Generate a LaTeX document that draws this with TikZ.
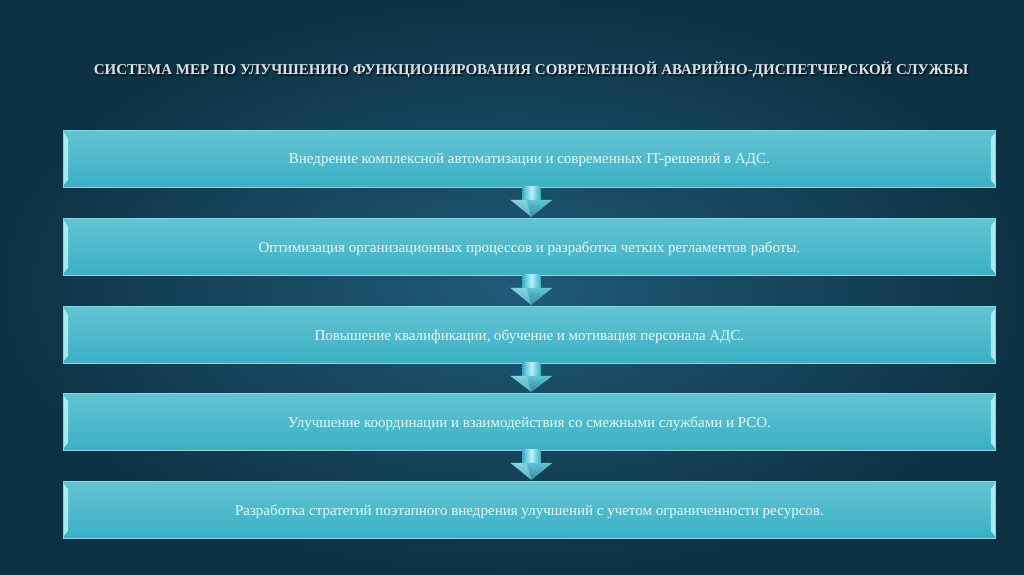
\documentclass[tikz,border=0pt]{standalone}
\usepackage{fontspec}
\setmainfont{Liberation Serif}
\definecolor{bgin}{HTML}{1F5C77}
\definecolor{bgout}{HTML}{0E3245}
\definecolor{boxtop}{HTML}{62C4D3}
\definecolor{boxbot}{HTML}{3BB0C4}
\definecolor{boxedge}{HTML}{8ED4DD}
\definecolor{bevel}{HTML}{B8F4FA}
\definecolor{txt}{HTML}{EAF7F9}
\definecolor{ttl}{HTML}{DCE2E6}
\tikzset{
  x=1pt, y=-1pt,
  stepbox/.style={draw=boxedge, line width=0.8pt, top color=boxtop, bottom color=boxbot,
    minimum width=932pt, minimum height=57pt, inner sep=0pt, anchor=north west},
  boxtext/.style={text=txt, font=\fontsize{15}{18}\selectfont},
  titletext/.style={font=\bfseries\fontsize{15}{18}\selectfont},
  bevelstrip/.style={fill=bevel, draw=none, opacity=0.85},
  arrowshaft/.style={left color=boxbot, right color=boxbot, middle color=bevel, draw=none},
  arrowhead/.style={top color=boxtop, bottom color=boxbot!80!black, draw=none},
}
\begin{document}
\begin{tikzpicture}
\shade[inner color=bgin, outer color=bgout] (0,0) rectangle (1024,574);
\useasboundingbox (0,0) rectangle (1024,574);

\node[text=black, opacity=0.6, titletext] at (532.5,71.5) {СИСТЕМА МЕР ПО УЛУЧШЕНИЮ ФУНКЦИОНИРОВАНИЯ СОВРЕМЕННОЙ АВАРИЙНО-ДИСПЕТЧЕРСКОЙ СЛУЖБЫ};
\node (title) [text=ttl, titletext] at (531,70) {СИСТЕМА МЕР ПО УЛУЧШЕНИЮ ФУНКЦИОНИРОВАНИЯ СОВРЕМЕННОЙ АВАРИЙНО-ДИСПЕТЧЕРСКОЙ СЛУЖБЫ};

\foreach \y/\name/\t in {
  130/b1/{Внедрение комплексной автоматизации и современных IT-решений в АДС.},
  218/b2/{Оптимизация организационных процессов и разработка четких регламентов работы.},
  306/b3/{Повышение квалификации, обучение и мотивация персонала АДС.},
  393/b4/{Улучшение координации и взаимодействия со смежными службами и РСО.},
  481/b5/{Разработка стратегий поэтапного внедрения улучшений с учетом ограниченности ресурсов.}}{
  \node[stepbox] (\name) at (63,\y) {};
  \node[boxtext] at ([yshift=-1.5pt]\name.center) {\t};
  \fill[bevelstrip] ([xshift=1pt,yshift=-3pt]\name.north west) -- ([xshift=5pt,yshift=-8pt]\name.north west)
     -- ([xshift=5pt,yshift=8pt]\name.south west) -- ([xshift=1pt,yshift=3pt]\name.south west) -- cycle;
  \fill[bevelstrip] ([xshift=-1pt,yshift=-3pt]\name.north east) -- ([xshift=-5pt,yshift=-8pt]\name.north east)
     -- ([xshift=-5pt,yshift=8pt]\name.south east) -- ([xshift=-1pt,yshift=3pt]\name.south east) -- cycle;
}

\foreach \a/\b in {b1/b2, b2/b3, b3/b4, b4/b5}{
  \coordinate (s) at ([xshift=2pt]\a.south);
  \coordinate (e) at ([xshift=2pt,yshift=1pt]\b.north);
  \shade[arrowshaft] ([xshift=-9pt,yshift=1pt]s) rectangle ([xshift=9pt,yshift=-13pt]s);
  \shade[arrowhead] ([xshift=-21pt,yshift=-12pt]s) -- ([xshift=21pt,yshift=-12pt]s) -- (e) -- cycle;
  \fill[bevel, opacity=0.35] ([xshift=-21pt,yshift=-12pt]s) -- ([xshift=-5pt,yshift=-12pt]s) -- (e) -- cycle;
}
\end{tikzpicture}
\end{document}
